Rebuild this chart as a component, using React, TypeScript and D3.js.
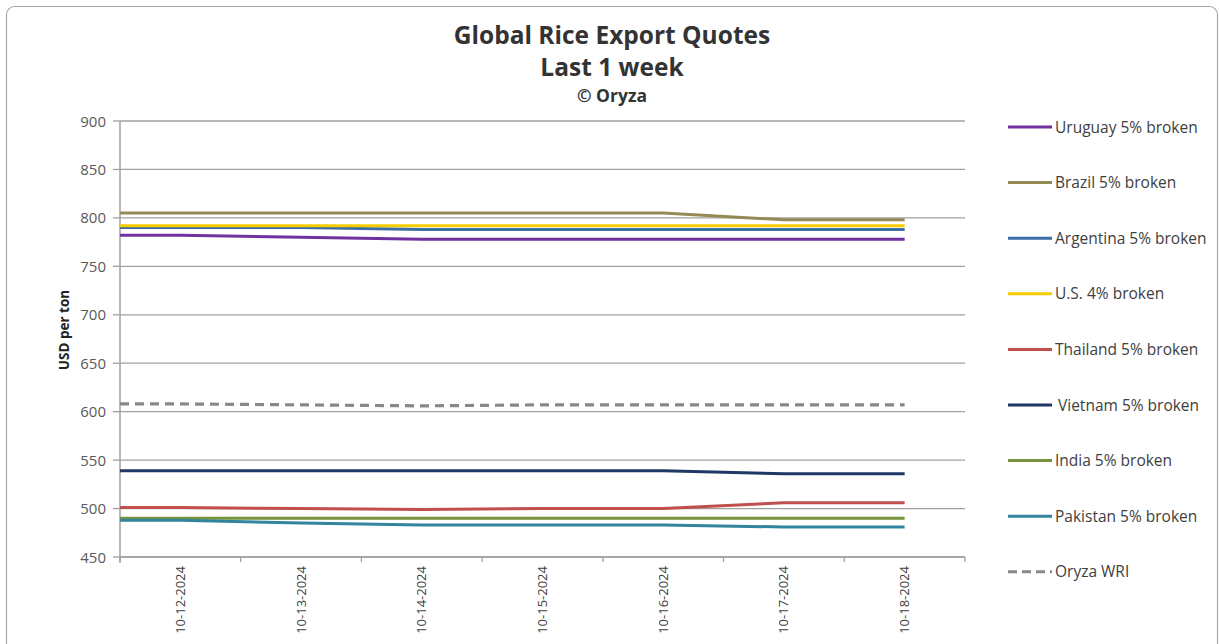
import React from "react";
import * as d3 from "d3";

const dates = ["10-12-2024", "10-13-2024", "10-14-2024", "10-15-2024", "10-16-2024", "10-17-2024", "10-18-2024"];
const uruguay = [782, 780, 778, 778, 778, 778, 778];
const brazil = [805, 805, 805, 805, 805, 798, 798];
const argentina = [790, 790, 788, 788, 788, 788, 788];
const us = [792, 792, 792, 792, 792, 792, 792];
const thailand = [501, 500, 499, 500, 500, 506, 506];
const vietnam = [539, 539, 539, 539, 539, 536, 536];
const india = [490, 490, 490, 490, 490, 490, 490];
const pakistan = [488, 485, 483, 483, 483, 481, 481];
const wri = [608, 607, 606, 607, 607, 607, 607];
const yTicks = [450, 500, 550, 600, 650, 700, 750, 800, 850, 900];

const seriesNames = [
  "Uruguay 5% broken", "Brazil 5% broken", "Argentina 5% broken", "U.S. 4% broken",
  "Thailand 5% broken", "Vietnam 5% broken", "India 5% broken", "Pakistan 5% broken", "Oryza WRI",
];
const seriesColors = ["#7030a0", "#948a54", "#3b6ea5", "#f5cc00", "#c0504d", "#1f3864", "#77933c", "#31849b", "#888888"];
const seriesValues = [uruguay, brazil, argentina, us, thailand, vietnam, india, pakistan, wri];

const W = 1220, H = 644;
const left = 120, right = 965, top = 121, bottom = 557;
const FONT = "'Open Sans', 'Liberation Sans', sans-serif";

export default function App() {
  const x = d3.scaleBand<string>().domain(dates).range([left, right]).padding(0);
  const xc = (d: string) => (x(d) as number) + x.bandwidth() / 2;
  const y = d3.scaleLinear().domain([450, 900]).range([bottom, top]);
  const line = d3.line<[number, number]>().x((d) => d[0]).y((d) => d[1]);

  const drawOrder = [8, 5, 4, 6, 7, 0, 2, 3, 1];

  return (
    <svg width={W} height={H} style={{ position: "absolute", left: 0, top: 0, background: "#fff" }}>
      <rect x={6.5} y={6.5} width={1211} height={660} rx={8} fill="#fff" stroke="#a6a6a6" strokeWidth={1.2} />
      <text x={612} y={44} textAnchor="middle" fontFamily={FONT} fontWeight="bold" fontSize={24.5} fill="#333">Global Rice Export Quotes</text>
      <text x={612} y={76} textAnchor="middle" fontFamily={FONT} fontWeight="bold" fontSize={24.5} fill="#333">Last 1 week</text>
      <text x={612} y={102} textAnchor="middle" fontFamily={FONT} fontWeight="bold" fontSize={17.5} fill="#333">© Oryza</text>

      {yTicks.map((t) => (
        <g key={t}>
          <line x1={left} x2={right} y1={y(t)} y2={y(t)} stroke="#a0a0a0" strokeWidth={1.3} />
          <line x1={left - 7} x2={left} y1={y(t)} y2={y(t)} stroke="#a0a0a0" strokeWidth={1.3} />
          <text x={left - 14} y={y(t) + 5.5} textAnchor="end" fontFamily={FONT} fontSize={15} fill="#595959">{t}</text>
        </g>
      ))}
      <line x1={left} x2={left} y1={top} y2={bottom + 6} stroke="#a0a0a0" strokeWidth={1.5} />
      <line x1={left} x2={right} y1={bottom} y2={bottom} stroke="#a0a0a0" strokeWidth={1.5} />
      {[...dates, "end"].map((d, i) => {
        const tx = left + i * x.bandwidth();
        return <line key={"t" + i} x1={tx} x2={tx} y1={bottom} y2={bottom + 5} stroke="#a0a0a0" strokeWidth={1.3} />;
      })}
      {dates.map((d) => (
        <text key={d} transform={`translate(${xc(d) + 4.5},${bottom + 9}) rotate(-90)`} textAnchor="end" fontFamily={FONT} fontSize={13} fill="#404040">{d}</text>
      ))}
      <text transform={`translate(${69},${330}) rotate(-90)`} textAnchor="middle" fontFamily={FONT} fontWeight="bold" fontSize={13.5} fill="#222">USD per ton</text>

      {drawOrder.map((si) => {
        const vals = seriesValues[si];
        const pts: [number, number][] = [[left, y(vals[0])], ...dates.map((d, i) => [xc(d), y(vals[i])] as [number, number])];
        return (
          <path key={si} d={line(pts) || ""} fill="none" stroke={seriesColors[si]} strokeWidth={si === 8 ? 3.2 : 3}
            strokeDasharray={si === 8 ? "9,6" : undefined} strokeLinejoin="round" />
        );
      })}

      {seriesNames.map((n, i) => {
        const ly = 127 + i * 55.6;
        return (
          <g key={n}>
            <line x1={1008} x2={1052} y1={ly} y2={ly} stroke={seriesColors[i]} strokeWidth={3} strokeDasharray={i === 8 ? "9,5" : undefined} />
            <text x={i === 5 ? 1058 : 1055} y={ly + 5.5} fontFamily={FONT} fontSize={15.5} fill="#404040">{n}</text>
          </g>
        );
      })}
    </svg>
  );
}
